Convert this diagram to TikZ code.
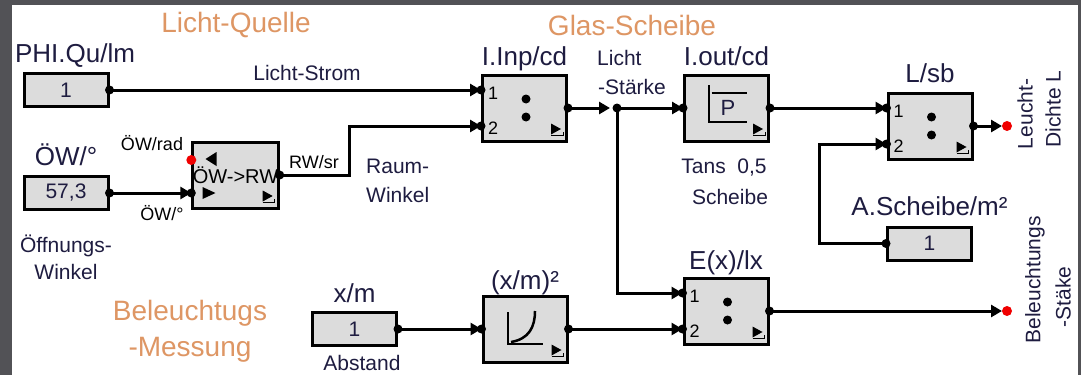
\documentclass[tikz,border=0pt]{standalone}
\usepackage{fontspec}
\setmainfont{Liberation Sans}
\usetikzlibrary{positioning,calc,arrows.meta}

\definecolor{framegray}{RGB}{82,82,86}
\definecolor{blockgray}{RGB}{220,220,220}
\definecolor{titleorange}{RGB}{222,150,100}
\definecolor{labelnavy}{RGB}{30,28,64}
\definecolor{portred}{RGB}{240,0,0}

\tikzset{
  constblock/.style={draw, line width=3pt, fill=blockgray, minimum width=84pt, minimum height=33pt,
    inner sep=0pt, text=labelnavy, font=\fontsize{21}{24}\selectfont},
  funcblock/.style={draw, line width=3pt, fill=blockgray, minimum width=84pt, minimum height=66pt, inner sep=0pt},
  title/.style={text=titleorange, font=\fontsize{28}{36}\selectfont},
  blockname/.style={text=labelnavy, inner sep=0pt, text depth=0pt, font=\fontsize{26}{28}\selectfont},
  sigtext/.style={text=labelnavy, inner sep=1pt, font=\fontsize{21}{28}\selectfont},
  tinytext/.style={text=black, inner sep=1pt, font=\fontsize{18}{20}\selectfont},
  portnum/.style={text=black, inner sep=0pt, font=\fontsize{18}{20}\selectfont},
  feed/.style={line width=3pt, -{Triangle[length=11pt,width=12pt]}},
}

% small run marker in the lower right corner of a block
\newcommand{\blockmark}[1]{%
  \fill ([xshift=-17pt,yshift=8pt]#1.south east) -- ++(0pt,11pt) -- ++(10pt,-5.5pt) -- cycle;
  \draw[line width=1pt] ([xshift=-17pt,yshift=7pt]#1.south east) -- ++(12pt,0pt) -- ++(0pt,4pt);}
% the two dots of a divider
\newcommand{\divdots}[1]{%
  \fill ($(#1)+(1.5,-9)$) circle (4.5pt) ($(#1)+(1.5,9)$) circle (4.5pt);}

\begin{document}
\begin{tikzpicture}[x=1pt,y=-1pt]
% frame
\fill[framegray] (0,0) rectangle (1081,375);
\fill[white] (12,5) rectangle (1078,375);
\useasboundingbox (0,0) rectangle (1081,375);

% titles
\node[title] (quelle) at (236,25) {Licht-Quelle};
\node[title] (glas) at (632,25) {Glas-Scheibe};
\node[title, align=center] (messung) at (190,331) {Beleuchtugs\\-Messung};

% blocks
\node[constblock] (phi) at (66,90) {1};
\node[constblock] (oew) at (66,193) {57,3};
\node[funcblock, font=\fontsize{20}{22}\selectfont] (conv) at (235.5,175) {ÖW->RW};
\node[funcblock] (iinp) at (524.5,108) {};
\node[funcblock] (iout) at (726.5,108) {};
\node[funcblock] (lsb) at (930,126) {};
\node[constblock] (ascheibe) at (929.5,243.5) {1};
\node[funcblock] (exlx) at (726,311) {};
\node[constblock] (xm) at (354.5,329) {1};
\node[funcblock] (sq) at (525,329) {};

% block names
\node[blockname, above=9pt of phi, xshift=9pt] (phiname) {PHI.Qu/lm};
\node[blockname, above=9pt of oew] (oewname) {ÖW/°};
\node[blockname, above=8pt of iinp] (iinpname) {I.Inp/cd};
\node[blockname, above=8pt of iout] (ioutname) {I.out/cd};
\node[blockname, above=9pt of lsb] (lsbname) {L/sb};
\node[blockname, above=10pt of ascheibe] (ascheibename) {A.Scheibe/m²};
\node[blockname, above=7pt of exlx] (exlxname) {E(x)/lx};
\node[blockname, above=8pt of xm] (xmname) {x/m};
\node[blockname, above=5pt of sq] (sqname) {(x/m)²};

% signal labels
\node[sigtext] (strom) at (307,73) {Licht-Strom};
\node[tinytext] (radlbl) at (152,143) {ÖW/rad};
\node[tinytext] (gradlbl) at (162,213) {ÖW/°};
\node[tinytext] (srlbl) at (314,162) {RW/sr};
\node[sigtext, align=center, font=\fontsize{21}{27}\selectfont] (oeffnung) at (66,257) {Öffnungs-\\Winkel};
\node[sigtext, align=left, anchor=west, font=\fontsize{21}{29}\selectfont] (raum) at (365,181) {Raum-\\Winkel};
\node[sigtext, anchor=west] (licht) at (596,58) {Licht};
\node[sigtext, anchor=west] (staerke) at (597,87) {-Stärke};
\node[sigtext] (tans) at (724,168) {Tans\ \ 0,5};
\node[sigtext] (scheibe) at (730,197) {Scheibe};
\node[sigtext] (abstand) at (362,363) {Abstand};
\node[sigtext, rotate=90] (leucht) at (1025,114) {Leucht-};
\node[sigtext, rotate=90] (dichte) at (1053,109) {Dichte L};
\node[sigtext, rotate=90] (beleucht) at (1035,280) {Beleuchtungs};
\node[sigtext, rotate=90] (staeke) at (1063,297) {-Stäke};

% ports
\coordinate (conv-in) at ([yshift=-18pt]conv.west);
\coordinate (conv-rad) at ([yshift=15pt]conv.west);
\foreach \b in {iinp, lsb, exlx} {
  \coordinate (\b-in1) at ([yshift=18pt]\b.west);
  \coordinate (\b-in2) at ([yshift=-18pt]\b.west);
  \node[portnum] (\b-n1) at ([xshift=12pt,yshift=-3pt]\b-in1) {1};
  \node[portnum] (\b-n2) at ([xshift=12pt,yshift=-2pt]\b-in2) {2};
}
\coordinate (split) at (617,108);
\coordinate (lout) at (1007,126);
\coordinate (eout) at (1007,311);

% wires
\draw[feed] (phi.east) -- (iinp-in1);
\draw[feed] (oew.east) -- (conv-in);
\draw[feed] (conv.east) -- ++(70,0) |- (iinp-in2);
\draw[feed] (iinp.east) -- ([xshift=-7pt]split);
\draw[feed] (split) -- (iout.west);
\draw[feed] (split) |- (exlx-in1);
\draw[feed] (iout.east) -- (lsb-in1);
\draw[feed] (ascheibe.west) -- ++(-67,0) |- (lsb-in2);
\draw[feed] (lsb.east) -- ([xshift=-5pt]lout);
\draw[feed] (xm.east) -- (sq.west);
\draw[feed] (sq.east) -- (exlx-in2);
\draw[feed] (exlx.east) -- ([xshift=-5pt]eout);

% port dots
\foreach \p in {phi.east, oew.east, conv.east, conv-in, iinp-in1, iinp-in2, iinp.east,
                iout.west, iout.east, lsb-in1, lsb-in2, lsb.east, ascheibe.west,
                exlx-in1, exlx-in2, exlx.east, xm.east, sq.west, sq.east, split}
  \fill (\p) circle (4.5pt);
\foreach \p in {conv-rad, lout, eout}
  \fill[portred] (\p) circle (5pt);

% block insides
\foreach \b in {conv, iinp, iout, lsb, exlx, sq} {\blockmark{\b}}
\foreach \b in {iinp, lsb, exlx} {\divdots{\b}}
\fill ($(conv)+(-30,-16)$) -- ($(conv)+(-19,-23)$) -- ($(conv)+(-19,-9)$) -- cycle;
\fill ($(conv)+(-20,18)$) -- ($(conv)+(-33,12)$) -- ($(conv)+(-33,24)$) -- cycle;
\draw[line width=2pt] ($(iout)+(-17.5,-23)$) -- ($(iout)+(-17.5,14)$) -- ($(iout)+(20.5,14)$);
\draw[line width=2pt] ($(iout)+(-15,-15)$) -- ($(iout)+(20.5,-15)$);
\node[sigtext, font=\fontsize{22}{24}\selectfont] (pletter) at ($(iout)+(1.5,0)$) {P};
\draw[line width=2pt] ($(sq)+(-17,-17)$) -- ($(sq)+(-17,15)$) -- ($(sq)+(18,15)$);
\draw[line width=2.5pt] ($(sq)+(-14,13)$) .. controls ($(sq)+(4,10)$) and ($(sq)+(10,-2)$) .. ($(sq)+(10,-18)$);
\end{tikzpicture}
\end{document}
